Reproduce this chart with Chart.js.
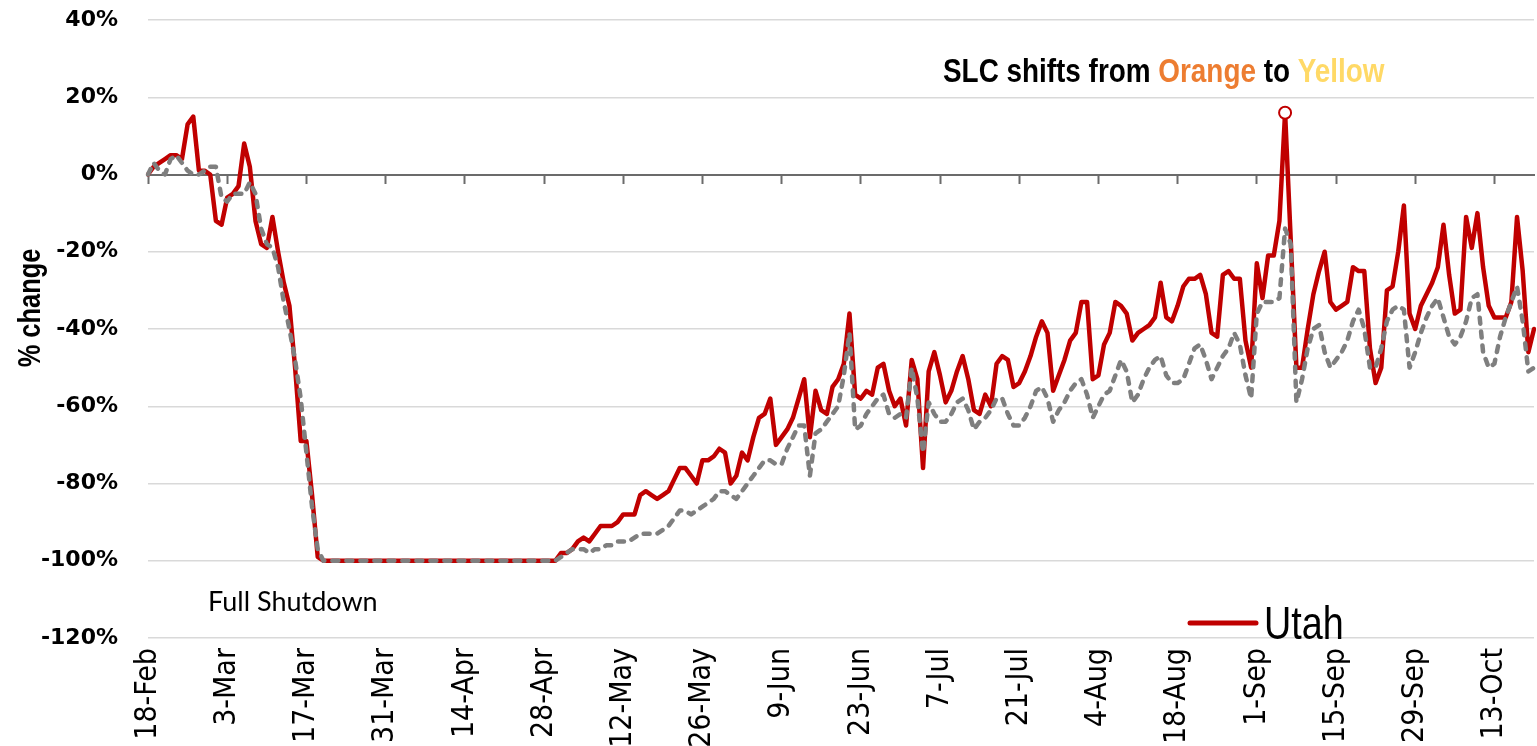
<!DOCTYPE html>
<html>
<head>
<meta charset="utf-8">
<script src="https://cdn.jsdelivr.net/npm/chart.js@4.4.1/dist/chart.umd.min.js"></script>
<style>
html,body{margin:0;padding:0;background:#fff;}
#wrap{width:1537px;height:746px;position:relative;}
</style>
</head>
<body>
<div id="wrap"><canvas id="c" width="1537" height="746"></canvas></div>
<script>
// ---- data ----
const firstDay = { year: 2020, month: 1, day: 18 };
const monthNames = ['Jan','Feb','Mar','Apr','May','Jun','Jul','Aug','Sep','Oct','Nov','Dec'];

const utah = [
  0,2,3,4,5,5,4,13,15,1,
  1,0,-12,-13,-6,-5,-3,8,2,-12,
  -18,-19,-11,-20,-28,-34,-50,-69,-69,-83,
  -99,-100,-100,-100,-100,-100,-100,-100,-100,-100,
  -100,-100,-100,-100,-100,-100,-100,-100,-100,-100,
  -100,-100,-100,-100,-100,-100,-100,-100,-100,-100,
  -100,-100,-100,-100,-100,-100,-100,-100,-100,-100,
  -100,-100,-100,-98,-98,-97,-95,-94,-95,-93,
  -91,-91,-91,-90,-88,-88,-88,-83,-82,-83,
  -84,-83,-82,-79,-76,-76,-78,-80,-74,-74,
  -73,-71,-72,-80,-78,-72,-74,-68,-63,-62,
  -58,-70,-68,-66,-63,-58,-53,-68,-56,-61,
  -62,-55,-53,-49,-36,-57,-58,-56,-57,-50,
  -49,-56,-60,-58,-65,-48,-53,-76,-51,-46,
  -52,-59,-56,-51,-47,-53,-61,-62,-57,-60,
  -49,-47,-48,-55,-54,-51,-47,-42,-38,-41,
  -56,-52,-48,-43,-41,-33,-33,-53,-52,-44,
  -41,-33,-34,-36,-43,-41,-40,-39,-37,-28,
  -37,-38,-34,-29,-27,-27,-26,-31,-41,-42,
  -26,-25,-27,-27,-43,-50,-23,-32,-21,-21,
  -12,16,-17,-50,-50,-40,-31,-25,-20,-33,
  -35,-34,-33,-24,-25,-25,-45,-54,-50,-30,
  -29,-20,-8,-36,-40,-34,-31,-28,-24,-13,
  -26,-36,-35,-11,-19,-10,-24,-34,-37,-37,
  -37,-33,-11,-25,-46,-40
];

const saltLake = [
  0,3,1,0,4,5,3,1,0,0,
  1,2,2,-6,-7,-5,-5,-5,-2,-5,
  -14,-18,-19,-24,-33,-40,-48,-58,-72,-86,
  -97,-100,-100,-100,-100,-100,-100,-100,-100,-100,
  -100,-100,-100,-100,-100,-100,-100,-100,-100,-100,
  -100,-100,-100,-100,-100,-100,-100,-100,-100,-100,
  -100,-100,-100,-100,-100,-100,-100,-100,-100,-100,
  -100,-100,-100,-99,-98,-97,-97,-97,-98,-97,
  -97,-96,-96,-95,-95,-95,-94,-93,-93,-93,
  -93,-92,-91,-89,-87,-87,-88,-87,-86,-85,
  -84,-82,-82,-83,-84,-82,-80,-78,-76,-74,
  -74,-75,-75,-71,-68,-65,-65,-78,-67,-66,
  -64,-62,-60,-52,-41,-66,-65,-62,-60,-58,
  -57,-62,-63,-62,-63,-50,-58,-72,-59,-62,
  -64,-64,-62,-59,-58,-61,-66,-64,-63,-61,
  -58,-58,-62,-65,-65,-63,-60,-56,-55,-58,
  -64,-61,-59,-56,-54,-53,-57,-63,-60,-57,
  -56,-52,-48,-51,-59,-57,-53,-50,-48,-47,
  -52,-54,-54,-53,-49,-45,-44,-48,-53,-50,
  -47,-45,-41,-44,-52,-58,-36,-33,-33,-33,
  -32,-14,-18,-59,-53,-45,-40,-39,-46,-50,
  -48,-46,-43,-38,-35,-40,-50,-50,-45,-38,
  -35,-34,-35,-50,-46,-41,-37,-34,-32,-37,
  -42,-44,-42,-38,-32,-31,-46,-50,-49,-42,
  -37,-33,-29,-38,-51,-50
];

const yTickValues = [40,20,0,-20,-40,-60,-80,-100,-120];
const tickEvery = 14;
const markedPoint = 201;
const yTitle = '% change';
const headlineParts = [
  { text: 'SLC shifts from ', color: '#000000' },
  { text: 'Orange', color: '#ED7D31' },
  { text: ' to ', color: '#000000' },
  { text: 'Yellow', color: '#FFD966' }
];
const noteText = 'Full Shutdown';

// categories: one per day
const categories = [];
{
  const d = new Date(firstDay.year, firstDay.month, firstDay.day);
  for (let i = 0; i < utah.length; i++) {
    categories.push(d.getDate() + '-' + monthNames[d.getMonth()]);
    d.setDate(d.getDate() + 1);
  }
}

const NARROW = "'Liberation Sans Narrow', 'DejaVu Sans Condensed', 'Arial Narrow', sans-serif";
const ARIAL = "'Liberation Sans', Arial, sans-serif";
const SQUEEZE = 0.82;
const RED = '#C00000';
const GREY = '#7F7F7F';

function squeezedText(ctx, text, x, y, sx) {
  ctx.save();
  ctx.translate(x, y);
  ctx.scale(sx, 1);
  ctx.fillText(text, 0, 0);
  ctx.restore();
  return ctx.measureText(text).width * sx;
}

const overlay = {
  id: 'overlay',
  afterDraw(chart) {
    const ctx = chart.ctx;
    ctx.save();
    // y axis title
    ctx.save();
    ctx.translate(31, 308);
    ctx.rotate(-Math.PI / 2);
    ctx.font = "bold 31px " + ARIAL;
    ctx.fillStyle = '#000';
    ctx.textAlign = 'center';
    ctx.textBaseline = 'middle';
    ctx.scale(SQUEEZE, 1);
    ctx.fillText(yTitle, 0, 0);
    ctx.restore();
    // headline
    ctx.font = "bold 34px " + ARIAL;
    ctx.textBaseline = 'alphabetic';
    ctx.textAlign = 'left';
    let x = 943;
    headlineParts.forEach(p => {
      ctx.fillStyle = p.color;
      x += squeezedText(ctx, p.text, x, 82, SQUEEZE);
    });
    // note
    ctx.font = "27px Lato, 'Open Sans', sans-serif";
    ctx.fillStyle = '#000';
    ctx.fillText(noteText, 208, 611);
    // legend (Utah only)
    const ds = chart.data.datasets.find(d => d.showInLegend);
    ctx.strokeStyle = ds.borderColor;
    ctx.lineWidth = 5;
    ctx.lineCap = 'round';
    ctx.beginPath();
    ctx.moveTo(1190, 623);
    ctx.lineTo(1256, 623);
    ctx.stroke();
    ctx.font = "46px " + ARIAL;
    ctx.fillStyle = '#000';
    squeezedText(ctx, ds.label, 1264, 639, SQUEEZE);
    ctx.restore();
  }
};

new Chart(document.getElementById('c'), {
  type: 'line',
  data: {
    labels: categories,
    datasets: [
      {
        label: 'Salt Lake County',
        data: saltLake,
        borderColor: GREY,
        borderWidth: 4.5,
        borderDash: [6, 8],
        borderCapStyle: 'round',
        borderJoinStyle: 'round',
        pointRadius: 0,
        tension: 0,
        order: 0,
        xAxisID: 'x',
        yAxisID: 'y'
      },
      {
        label: 'Utah',
        showInLegend: true,
        data: utah,
        borderColor: RED,
        borderWidth: 4.5,
        borderJoinStyle: 'round',
        borderCapStyle: 'round',
        pointRadius: ctx => ctx.dataIndex === markedPoint ? 6 : 0,
        pointHoverRadius: ctx => ctx.dataIndex === markedPoint ? 6 : 0,
        pointBackgroundColor: '#ffffff',
        pointBorderColor: RED,
        pointBorderWidth: 2,
        tension: 0,
        order: 1,
        xAxisID: 'x',
        yAxisID: 'y'
      }
    ]
  },
  options: {
    responsive: false,
    devicePixelRatio: 1,
    animation: false,
    events: [],
    layout: { padding: { left: 0, right: 3, top: 20, bottom: 0 } },
    plugins: {
      legend: { display: false },
      tooltip: { enabled: false }
    },
    scales: {
      x: {
        type: 'category',
        position: 'bottom',
        offset: false,
        grid: { display: false, drawTicks: false },
        border: { display: false },
        ticks: {
          autoSkip: false,
          minRotation: 90,
          maxRotation: 90,
          padding: 10,
          color: '#000',
          font: { family: NARROW, size: 30 },
          callback: function (value, index) {
            return index % tickEvery === 0 ? this.getLabelForValue(value) : '';
          }
        },
        afterFit: s => { s.height = 108; s.paddingLeft = 0; s.paddingRight = 0; }
      },
      x2: {
        type: 'category',
        position: { y: 0 },
        offset: false,
        grid: {
          display: true,
          drawOnChartArea: false,
          drawTicks: true,
          tickLength: 8,
          tickWidth: 2,
          tickColor: ctx => ctx.index % tickEvery === 0 ? '#6b6b6b' : 'rgba(0,0,0,0)'
        },
        border: { display: true, color: '#6b6b6b', width: 2 },
        ticks: { display: false, autoSkip: false },
        afterFit: s => { s.paddingLeft = 0; s.paddingRight = 0; }
      },
      y: {
        type: 'linear',
        min: -120,
        max: 40,
        afterBuildTicks: s => { s.ticks = yTickValues.map(v => ({ value: v })); },
        grid: { color: '#d9d9d9', lineWidth: 1.5, drawTicks: false },
        border: { display: false },
        ticks: {
          padding: 30,
          color: '#000',
          font: { family: "'DejaVu Sans', Verdana, sans-serif", size: 22, weight: 'bold' },
          callback: v => v + '%'
        },
        title: { display: false },
        afterFit: s => { s.width = 148; s.paddingTop = 0; s.paddingBottom = 0; }
      }
    }
  },
  plugins: [overlay]
});
</script>
</body>
</html>
